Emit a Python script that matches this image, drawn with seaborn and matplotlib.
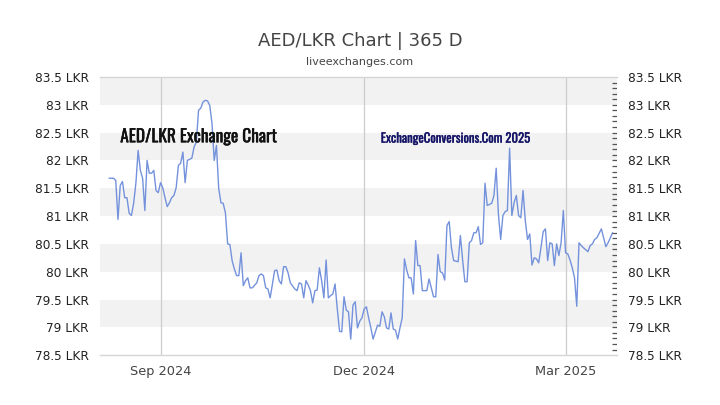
import matplotlib
matplotlib.use("Agg")
import matplotlib.pyplot as plt
import matplotlib.patheffects as pe
from matplotlib.ticker import MultipleLocator, FuncFormatter
import numpy as np
import pandas as pd
import seaborn as sns

# data: day offsets from 1 Sep 2024 and AED/LKR rate
base_date = "2024-09-01"
day_offsets = (
    [-23] + list(range(-21, 42)) + list(range(43, 50)) + list(range(51, 59))
    + list(range(60, 96)) + list(range(97, 118)) + [119, 120]
    + list(range(122, 132)) + list(range(133, 190)) + list(range(191, 196))
    + list(range(197, 203))
)
rates = [
    81.68, 81.68, 81.64, 80.94, 81.55, 81.62, 81.33, 81.33, 81.05, 81.01,
    81.23, 81.59, 82.18, 81.82, 81.68, 81.10, 82.00, 81.77, 81.77, 81.82,
    81.46, 81.42, 81.60, 81.51, 81.33, 81.17, 81.24, 81.33, 81.37, 81.51,
    81.91, 81.95, 82.15, 81.60, 82.00, 82.02, 82.04, 82.24, 82.33, 82.90,
    82.94, 83.05, 83.08, 83.07, 82.99, 82.67, 82.00, 82.27, 81.50, 81.24,
    81.23, 81.06, 80.50, 80.49, 80.20, 80.05, 79.93, 79.93, 80.34, 79.75,
    79.84, 79.89, 79.71, 79.71, 79.80, 79.93, 79.96, 79.93, 79.71, 79.69,
    79.53, 80.02, 80.03, 79.84, 79.78, 80.09, 80.09, 79.98, 79.80, 79.69,
    79.66, 79.80, 79.78, 79.53, 79.84, 79.76, 79.66, 79.44, 79.66, 79.67,
    80.07, 79.84, 79.53, 80.21, 79.53, 79.57, 79.60, 79.78, 79.33, 78.93,
    78.92, 79.55, 79.31, 79.28, 78.79, 79.40, 79.46, 78.99, 79.11, 79.17,
    79.33, 79.37, 79.17, 78.99, 78.79, 79.04, 79.02, 79.28, 79.19, 78.99,
    78.97, 79.26, 78.97, 78.95, 78.79, 78.99, 79.17, 80.23, 80.03, 79.89,
    79.89, 79.60, 80.56, 80.11, 80.11, 79.66, 79.66, 79.87, 79.55, 79.55,
    80.31, 80.00, 79.98, 79.85, 80.83, 80.90, 80.43, 80.20, 80.18, 80.65,
    80.21, 79.82, 79.82, 80.52, 80.56, 80.70, 80.70, 80.81, 80.49, 80.52,
    81.59, 81.19, 81.21, 81.23, 81.37, 81.86, 81.03, 80.58, 81.01, 81.08,
    81.10, 82.22, 81.01, 81.24, 81.37, 81.01, 80.97, 81.46, 80.92, 80.58,
    80.68, 80.12, 80.25, 80.23, 80.16, 80.43, 80.72, 80.77, 80.20, 80.52,
    80.50, 80.11, 80.50, 80.29, 80.52, 81.10, 80.34, 80.32, 80.21, 80.07,
    79.89, 79.38, 80.52, 80.47, 80.43, 80.36, 80.47, 80.50, 80.58, 80.61,
    80.77, 80.61, 80.45, 80.52, 80.61, 80.70,
]
x_ticks = ["2024-09-01", "2024-12-01", "2025-03-01"]
x_labels = ["Sep 2024", "Dec 2024", "Mar 2025"]

df = pd.DataFrame({
    "date": pd.Timestamp(base_date) + pd.to_timedelta(day_offsets, unit="D"),
    "rate": rates,
})

sns.set_theme(style="white")
plt.rcParams["font.family"] = ["DejaVu Sans"]

fig = plt.figure(figsize=(7.2, 4.05), dpi=100)
ax = fig.add_axes([0.139, 0.123, 0.718, 0.687])

# alternating horizontal bands
for lo in np.arange(79.0, 83.5, 1.0):
    ax.axhspan(lo, lo + 0.5, color="#f2f2f2", zorder=0, lw=0)

for t in x_ticks:
    ax.axvline(pd.Timestamp(t), color="#cccccc", lw=0.9, zorder=1)

sns.lineplot(data=df, x="date", y="rate", ax=ax, color="#7492dc",
             linewidth=1.0, zorder=3)

ax.set_ylim(78.5, 83.5)
ax.set_xlim(pd.Timestamp("2024-08-05"), pd.Timestamp("2025-03-24"))
ax.set_xlabel("")
ax.set_ylabel("")

fmt = FuncFormatter(lambda v, p: f"{v:g} LKR")
ax.yaxis.set_major_locator(MultipleLocator(0.5))
ax.yaxis.set_major_formatter(fmt)
ax.tick_params(axis="y", length=0, labelsize=8.7, labelcolor="#222222",
               pad=8, labelleft=True, labelright=True)

# little dashes along the right edge every 0.1
ax.hlines(np.arange(78.6, 83.45, 0.1), 0.991, 1.0,
          transform=ax.get_yaxis_transform(), color="#555555", lw=0.9,
          zorder=4)

ax.set_xticks([pd.Timestamp(t) for t in x_ticks])
ax.set_xticklabels(x_labels)
ax.tick_params(axis="x", length=0, labelsize=9.3, labelcolor="#444444", pad=7)

for side in ["top", "bottom"]:
    ax.spines[side].set_color("#d5d5d5")
    ax.spines[side].set_linewidth(1)
for side in ["left", "right"]:
    ax.spines[side].set_visible(False)

fig.text(0.5, 0.9, "AED/LKR Chart | 365 D", ha="center", va="center",
         fontsize=13, color="#444444")
fig.text(0.5, 0.847, "liveexchanges.com", ha="center", va="center",
         fontsize=8, color="#444444")

ax.text(0.039, 0.785, "AED/LKR Exchange Chart", transform=ax.transAxes,
        fontsize=12.5, color="#111111", va="center",
        family=["Oswald", "DejaVu Sans"],
        path_effects=[pe.withStroke(linewidth=0.3, foreground="#111111")])
ax.text(0.543, 0.78, "ExchangeConversions.Com 2025", transform=ax.transAxes,
        fontsize=9.2, color="#141466", va="center",
        family=["Oswald", "DejaVu Sans"],
        path_effects=[pe.withStroke(linewidth=0.2, foreground="#141466")])

fig.savefig("out.png", dpi=100, facecolor="white")
plt.close(fig)
